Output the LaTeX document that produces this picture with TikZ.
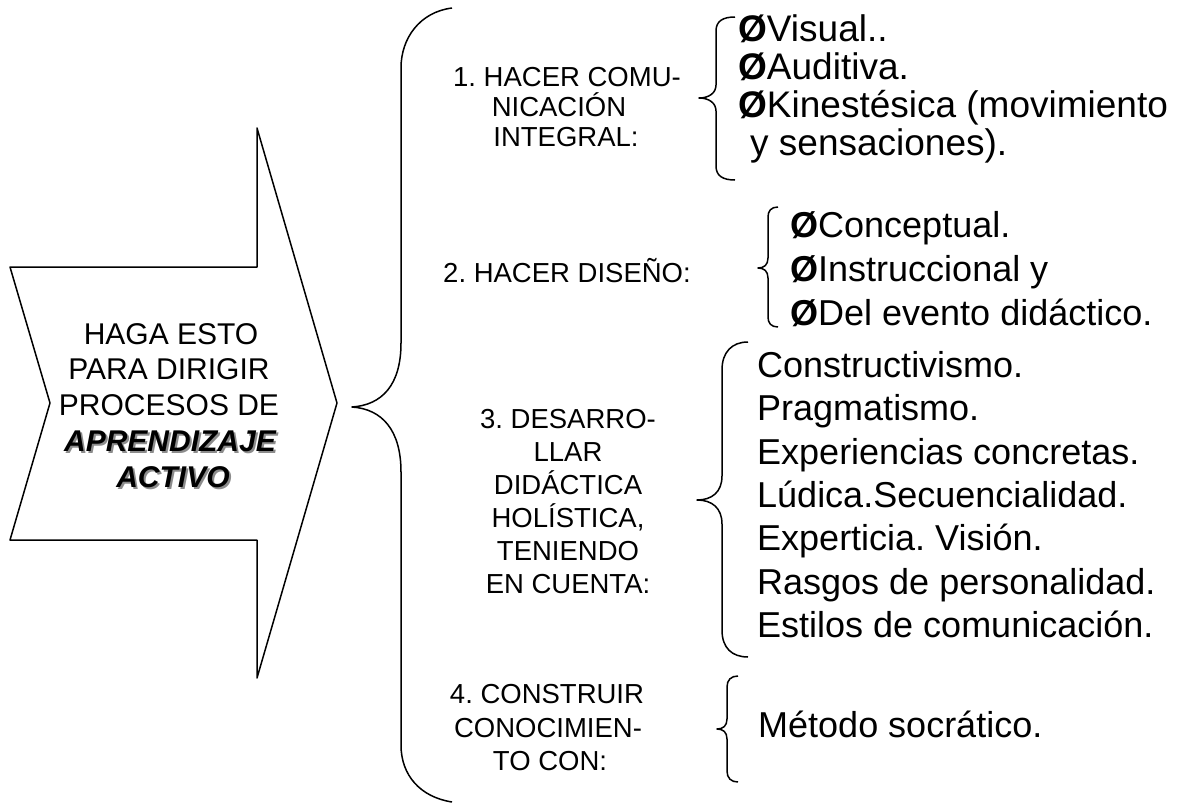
\documentclass[tikz,border=0pt]{standalone}
\usepackage{fontspec}
\setmainfont{Liberation Sans}
\frenchspacing
\begin{document}
\begin{tikzpicture}[x=1pt,y=-1pt,
  br/.style={draw=black, line width=1.5pt, line join=round},
  mainfont/.style={font=\fontsize{30}{35}\selectfont, anchor=base, inner sep=0pt},
  lbl/.style={font=\fontsize{27.5}{33}\selectfont, anchor=base, inner sep=0pt},
  itm/.style={font=\fontsize{36}{41}\selectfont, anchor=base west, inner sep=0pt},
  itmA/.style={font=\fontsize{37}{41}\selectfont, anchor=base west, inner sep=0pt}]
\useasboundingbox[fill=white] (0,0) rectangle (1179,803);

% big arrow
\draw[br] (10,267) -- (257,267) -- (257,128) -- (337,403) -- (257,678) -- (257,540) -- (10,540) -- (50,403) -- cycle;

% main text
\node[mainfont] (m1) at (171,344) {HAGA ESTO};
\node[mainfont] (m2) at (169,379) {PARA DIRIGIR};
\node[mainfont] (m3) at (169,415) {PROCESOS DE};
\node[mainfont, text=black!45] (m4s) at (172,453) {\bfseries\itshape APRENDIZAJE};
\node[mainfont] (m4) at (170,451) {\bfseries\itshape APRENDIZAJE};
\node[mainfont, text=black!45] (m5s) at (175,489) {\bfseries\itshape ACTIVO};
\node[mainfont] (m5) at (173,487) {\bfseries\itshape ACTIVO};

% big brace
\draw[br] (452,8) .. controls (420,12) and (401,38) .. (401,68)
  -- (401,343) .. controls (401,385) and (382,405) .. (352,407)
  .. controls (382,409) and (401,430) .. (401,472)
  -- (401,745) .. controls (401,775) and (420,797) .. (452,802);

% labels
\node[lbl] (l1a) at (567,86) {1. HACER COMU-};
\node[lbl] (l1b) at (559,116) {NICACIÓN};
\node[lbl] (l1c) at (566,146) {INTEGRAL:};
\node[lbl] (l2) at (567,282) {2. HACER DISEÑO:};
\node[lbl] (l3a) at (568,428) {3. DESARRO-};
\node[lbl] (l3b) at (568,461) {LLAR};
\node[lbl] (l3c) at (568,494) {DIDÁCTICA};
\node[lbl] (l3d) at (568,527) {HOLÍSTICA,};
\node[lbl] (l3e) at (568,560) {TENIENDO};
\node[lbl] (l3f) at (568,593) {EN CUENTA:};
\node[lbl] (l4a) at (547,703) {4. CONSTRUIR};
\node[lbl] (l4b) at (548,737) {CONOCIMIEN-};
\node[lbl] (l4c) at (550,770) {TO CON:};

% brace 1
\draw[br] (735,17) .. controls (723,17) and (716,21) .. (716,31)
  -- (716,85) .. controls (716,93) and (709,98) .. (699,98)
  .. controls (709,98) and (716,103) .. (716,111)
  -- (716,166) .. controls (716,176) and (723,180) .. (735,180);
% brace 2
\draw[br] (778,207) .. controls (771,207) and (768,211) .. (768,217)
  -- (768,258) .. controls (768,265) and (764,268) .. (758,268)
  .. controls (764,268) and (768,271) .. (768,278)
  -- (768,317) .. controls (768,323) and (771,327) .. (778,327);
% brace 3
\draw[br] (748,342) .. controls (732,342) and (722,352) .. (722,370)
  -- (722,476) .. controls (722,492) and (712,500) .. (697,500)
  .. controls (712,500) and (722,508) .. (722,524)
  -- (722,630) .. controls (722,648) and (732,657) .. (748,657);
% brace 4
\draw[br] (738,676) .. controls (731,676) and (727,680) .. (727,687)
  -- (727,719) .. controls (727,726) and (723,729) .. (717,729)
  .. controls (723,729) and (727,732) .. (727,739)
  -- (727,771) .. controls (727,778) and (731,782) .. (738,782);

% items group 1
\node[itmA] (i1a) at (738,41) {\textbf{Ø}Visual..};
\node[itmA] (i1b) at (738,79) {\textbf{Ø}Auditiva.};
\node[itmA] (i1c) at (738,117) {\textbf{Ø}Kinestésica (movimiento};
\node[itmA] (i1d) at (750,155) {y sensaciones).};
% items group 2
\node[itm] (i2a) at (790,237) {\textbf{Ø}Conceptual.};
\node[itm] (i2b) at (790,281) {\textbf{Ø}Instruccional y};
\node[itm] (i2c) at (790,325) {\textbf{Ø}Del evento didáctico.};
% items group 3
\node[itm] (i3a) at (757,377) {Constructivismo.};
\node[itm] (i3b) at (757,420) {Pragmatismo.};
\node[itm] (i3c) at (757,464) {Experiencias concretas.};
\node[itm] (i3d) at (757,507) {Lúdica.Secuencialidad.};
\node[itm] (i3e) at (757,550) {Experticia. Visión.};
\node[itm] (i3f) at (757,594) {Rasgos de personalidad.};
\node[itm] (i3g) at (757,637) {Estilos de comunicación.};
% item 4
\node[itm] (i4) at (758,737) {Método socrático.};
\end{tikzpicture}
\end{document}
